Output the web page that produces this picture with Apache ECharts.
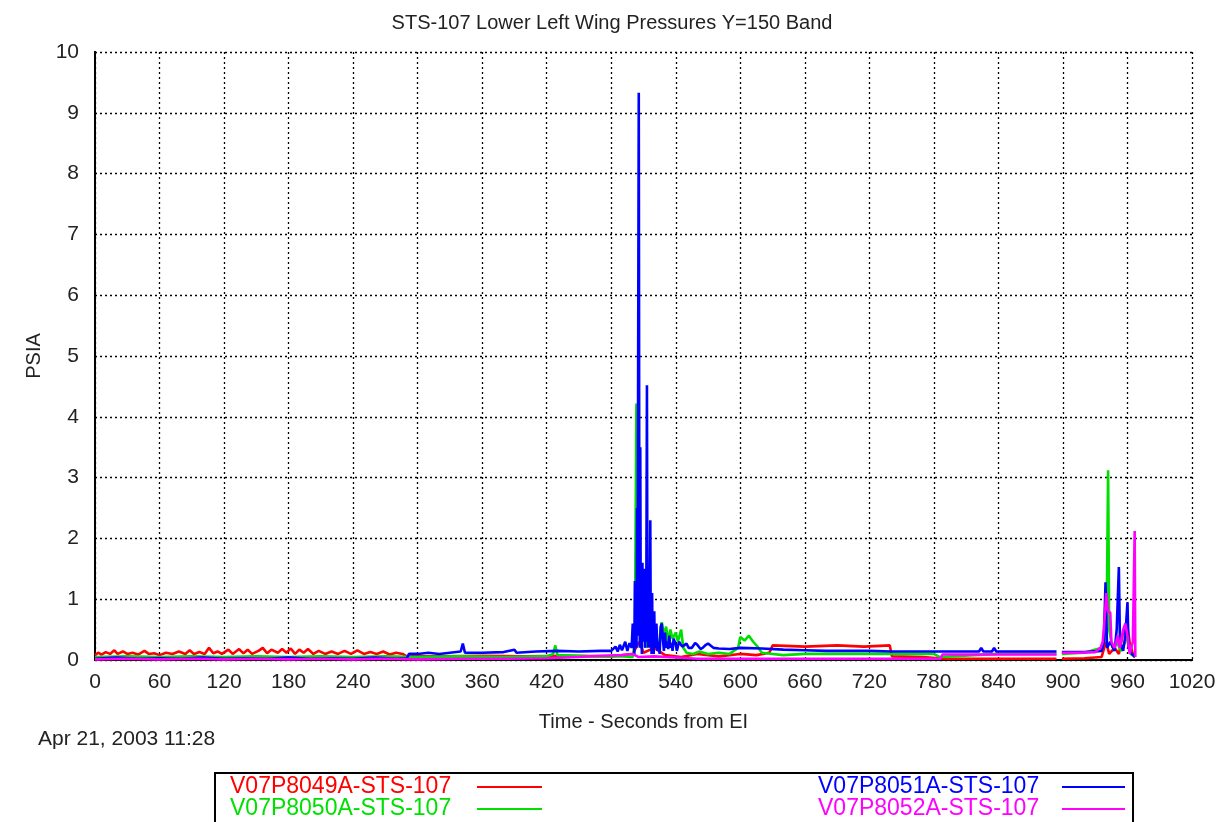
<!DOCTYPE html>
<html>
<head>
<meta charset="utf-8">
<script src="https://cdn.jsdelivr.net/npm/echarts@6/dist/echarts.min.js"></script>
<style>
html,body{margin:0;padding:0;background:#fff;}
#chart{width:1224px;height:822px;}
</style>
</head>
<body>
<div id="chart"></div>
<script>
const titleText = 'STS-107 Lower Left Wing Pressures Y=150 Band';
const xTicks = [0, 60, 120, 180, 240, 300, 360, 420, 480, 540, 600, 660, 720, 780, 840, 900, 960, 1020];
const yTicks = [0, 1, 2, 3, 4, 5, 6, 7, 8, 9, 10];
const seriesNames = ['V07P8049A-STS-107', 'V07P8050A-STS-107', 'V07P8051A-STS-107', 'V07P8052A-STS-107'];
const seriesColors = ['#ff0000', '#00e000', '#0000ff', '#ff00ff'];

// V07P8049A [seconds, psia]
const red = [
[0,0.08],[3,0.12],[6,0.09],[10,0.13],[14,0.1],[18,0.16],[21,0.1],[26,0.14],[30,0.1],[35,0.12],[40,0.09],[46,0.15],[50,0.1],[55,0.11],[60,0.08],[66,0.12],[72,0.1],[78,0.14],[84,0.1],[88,0.16],[92,0.1],[97,0.13],[102,0.1],[106,0.2],[110,0.11],[114,0.14],[118,0.1],[124,0.17],[128,0.1],[134,0.18],[138,0.11],[142,0.17],[146,0.1],[152,0.15],[156,0.2],[160,0.11],[164,0.17],[170,0.12],[174,0.18],[178,0.12],[182,0.19],[186,0.1],[190,0.17],[194,0.12],[198,0.18],[203,0.1],[208,0.15],[214,0.1],[220,0.14],[226,0.1],[232,0.15],[238,0.1],[244,0.16],[250,0.1],[256,0.13],[262,0.1],[268,0.14],[274,0.09],[280,0.12],[286,0.1],[290,0.06],
[320,0.06],[360,0.07],[400,0.06],[440,0.07],[480,0.06],[500,0.1],[506,0.3],[510,0.12],[520,0.2],[530,0.08],[545,0.05],[560,0.1],[580,0.06],[600,0.1],[615,0.08],[627,0.12],[630,0.24],[660,0.22],[690,0.24],[715,0.22],[739,0.24],[741,0.06],[770,0.05],[790,0.02],[840,0.02],[894,0.02],[896,null],[899,0.02],[920,0.03],[936,0.05],[940,0.3],[943,0.1],[948,0.2],[952,0.1],[956,0.45],[960,0.54],[962,0.3],[965,0.1],[967,0.05]
];
// V07P8050A
const green = [
[0,0.05],[30,0.06],[60,0.05],[90,0.06],[120,0.05],[150,0.06],[180,0.05],[210,0.06],[240,0.05],[270,0.06],[300,0.05],[340,0.06],[380,0.05],[420,0.06],[426,0.1],[428,0.24],[430,0.08],[460,0.06],[490,0.06],[500,0.05],[502,0.3],[503.4,4.22],[504,0.4],[506,1.0],[508,0.3],[510,0.9],[512,0.2],[514,1.3],[515,0.5],[518,0.7],[520,0.2],[522,0.4],[524,0.15],[526,0.5],[527,0.62],[529,0.4],[531,0.55],[533,0.3],[535,0.5],[537,0.35],[540,0.45],[542,0.3],[545,0.5],[547,0.2],[550,0.12],[556,0.1],[562,0.14],[570,0.1],[580,0.12],[590,0.1],[598,0.2],[600,0.38],[604,0.32],[608,0.4],[612,0.3],[616,0.22],[620,0.12],[630,0.1],[640,0.08],[660,0.1],[700,0.1],[740,0.1],[780,0.1],[785,0.05],[840,0.1],[894,0.1],[896,null],[899,0.1],[920,0.12],[936,0.2],[940,0.4],[941,1.3],[942,3.12],[943,0.5],[946,0.2],[950,0.3],[954,0.15],[958,0.3],[960,0.4],[963,0.1],[967,0.05]
];
// V07P8051A
const blue = [
[0,0.02],[20,0.04],[40,0.02],[60,0.03],[80,0.02],[100,0.04],[120,0.02],[140,0.03],[160,0.02],[180,0.04],[200,0.02],[220,0.03],[240,0.02],[260,0.04],[280,0.02],[290,0.03],[292,0.1],[300,0.1],[310,0.12],[320,0.1],[330,0.12],[340,0.14],[342,0.27],[344,0.12],[360,0.12],[380,0.13],[390,0.17],[392,0.12],[410,0.14],[430,0.15],[450,0.14],[470,0.15],[480,0.15],[484,0.22],[486,0.14],[488,0.25],[490,0.16],[493,0.3],[495,0.15],[497,0.28],[499,0.2],[500,0.6],[500.5,0.2],[501,0.45],[501.5,0.1],[502,1.3],[502.5,0.3],[503,0.7],[503.5,0.2],[504,2.5],[504.5,0.4],[505,4.7],[505.6,9.33],[506.2,1.0],[506.6,0.2],[507,3.5],[507.5,0.3],[508,0.8],[508.5,0.1],[509,1.6],[509.5,0.3],[510,0.5],[510.5,1.5],[511,1.3],[511.5,0.2],[512,0.7],[512.5,0.3],[513.2,4.52],[513.7,0.4],[514,0.9],[514.5,0.2],[515,1.35],[515.5,0.3],[516.3,2.3],[516.8,0.2],[517,0.6],[517.5,0.1],[518,1.1],[518.5,0.2],[519,0.4],[519.5,0.1],[520,0.8],[520.5,0.2],[521,0.35],[522,0.6],[523,0.15],[524,0.3],[525,0.1],[526,0.55],[527,0.6],[528,0.35],[529,0.15],[530,0.45],[531,0.2],[532,0.3],[533,0.18],[534,0.4],[535,0.2],[536,0.28],[537,0.15],[538,0.35],[540,0.25],[541,0.15],[543,0.3],[546,0.22],[550,0.27],[552,0.2],[555,0.2],[558,0.28],[560,0.25],[563,0.18],[565,0.2],[568,0.25],[570,0.27],[575,0.2],[580,0.19],[590,0.18],[600,0.2],[620,0.19],[640,0.17],[660,0.16],[680,0.15],[700,0.15],[720,0.15],[740,0.14],[760,0.14],[800,0.14],[822,0.14],[824,0.2],[826,0.14],[834,0.14],[836,0.2],[838,0.14],[860,0.14],[894,0.14],[896,null],[899,0.13],[920,0.13],[936,0.15],[938,0.3],[939.6,1.28],[941,0.2],[944,0.3],[948,0.15],[950,0.5],[952,1.53],[953,0.3],[956,0.15],[958,0.4],[960,0.95],[961,0.2],[964,0.1],[967,0.05]
];
// V07P8052A
const magenta = [
[0,0.01],[30,0.02],[60,0.01],[90,0.02],[120,0.01],[150,0.02],[180,0.01],[210,0.02],[240,0.01],[270,0.02],[300,0.01],[340,0.02],[380,0.02],[420,0.03],[450,0.05],[470,0.07],[490,0.08],[500,0.1],[505,0.05],[520,0.06],[540,0.04],[560,0.02],[600,0.02],[640,0.02],[680,0.02],[720,0.02],[760,0.02],[786,0.02],[788,0.09],[820,0.09],[860,0.09],[894,0.09],[896,null],[899,0.12],[915,0.12],[930,0.13],[935,0.2],[937,0.3],[938,0.5],[940.4,1.1],[942,0.8],[944,0.78],[945,0.3],[948,0.2],[951,0.4],[953,0.2],[956,0.5],[958,0.6],[960,0.4],[962,0.1],[965,0.3],[966.7,2.12],[967.3,0.05]
];

const seriesData = [red, green, blue, magenta];
const chart = echarts.init(document.getElementById('chart'), null, {renderer: 'canvas'});
const FONT = 'Liberation Sans, Arial, sans-serif';
const gridLine = {show: true, lineStyle: {color: '#000', type: [2, 3], width: 1.3}};

const option = {
  animation: false,
  backgroundColor: '#fff',
  title: {
    text: titleText, left: 'center', top: 8,
    textStyle: {fontFamily: FONT, fontSize: 20, fontWeight: 'normal', color: '#222'}
  },
  grid: {left: 95, right: 32, top: 52, bottom: 162},
  xAxis: [{
    type: 'value', min: xTicks[0], max: xTicks[xTicks.length - 1], interval: 60,
    name: 'Time - Seconds from EI', nameLocation: 'middle', nameGap: 52,
    nameTextStyle: {fontFamily: FONT, fontSize: 20, color: '#222'},
    axisLine: {show: true, lineStyle: {color: '#000', width: 2}},
    axisTick: {show: false},
    axisLabel: {fontFamily: FONT, fontSize: 21, color: '#222', margin: 12, formatter: v => String(v)},
    splitLine: gridLine
  }, {
    type: 'value', position: 'top', min: xTicks[0], max: xTicks[xTicks.length - 1], interval: 60,
    axisLine: {show: true, lineStyle: {color: '#000', width: 2}},
    axisTick: {show: false},
    axisLabel: {show: false}, splitLine: {show: false}
  }],
  yAxis: [{
    type: 'value', min: yTicks[0], max: yTicks[yTicks.length - 1], interval: 1,
    name: 'PSIA', nameLocation: 'middle', nameGap: 48, nameRotate: 90,
    nameTextStyle: {fontFamily: FONT, fontSize: 20, color: '#222'},
    axisLine: {show: true, lineStyle: {color: '#000', width: 2}},
    axisTick: {show: false},
    axisLabel: {fontFamily: FONT, fontSize: 21, color: '#222', margin: 16},
    splitLine: gridLine
  }, {
    type: 'value', position: 'right', min: yTicks[0], max: yTicks[yTicks.length - 1], interval: 1,
    axisLine: {show: true, lineStyle: {color: '#000', width: 2}},
    axisTick: {show: false},
    axisLabel: {show: false}, splitLine: {show: false}
  }],
  series: seriesNames.map((n, i) => ({
    name: n, type: 'line', data: seriesData[i], showSymbol: false, symbol: 'none',
    sampling: null, connectNulls: false, xAxisIndex: 0, yAxisIndex: 0,
    lineStyle: {color: seriesColors[i], width: 2.6}, itemStyle: {color: seriesColors[i]},
    z: 2 + i
  })),
  graphic: [
    {type: 'text', left: 38, top: 729, style: {text: 'Apr 21, 2003 11:28', font: '21px ' + FONT, fill: '#222'}},
    {type: 'rect', shape: {x: 215, y: 773, width: 918, height: 60}, style: {fill: 'none', stroke: '#000', lineWidth: 2}, z: 1},
    {type: 'text', x: 230, y: 787, style: {text: seriesNames[0], font: '23px ' + FONT, fill: seriesColors[0], textVerticalAlign: 'middle'}},
    {type: 'text', x: 230, y: 809, style: {text: seriesNames[1], font: '23px ' + FONT, fill: seriesColors[1], textVerticalAlign: 'middle'}},
    {type: 'text', x: 818, y: 787, style: {text: seriesNames[2], font: '23px ' + FONT, fill: seriesColors[2], textVerticalAlign: 'middle'}},
    {type: 'text', x: 818, y: 809, style: {text: seriesNames[3], font: '23px ' + FONT, fill: seriesColors[3], textVerticalAlign: 'middle'}},
    {type: 'line', shape: {x1: 477, y1: 787, x2: 542, y2: 787}, style: {stroke: seriesColors[0], lineWidth: 2}},
    {type: 'line', shape: {x1: 477, y1: 809, x2: 542, y2: 809}, style: {stroke: seriesColors[1], lineWidth: 2}},
    {type: 'line', shape: {x1: 1062, y1: 787, x2: 1125, y2: 787}, style: {stroke: seriesColors[2], lineWidth: 2}},
    {type: 'line', shape: {x1: 1062, y1: 809, x2: 1125, y2: 809}, style: {stroke: seriesColors[3], lineWidth: 2}}
  ]
};
chart.setOption(option);
</script>
</body>
</html>
